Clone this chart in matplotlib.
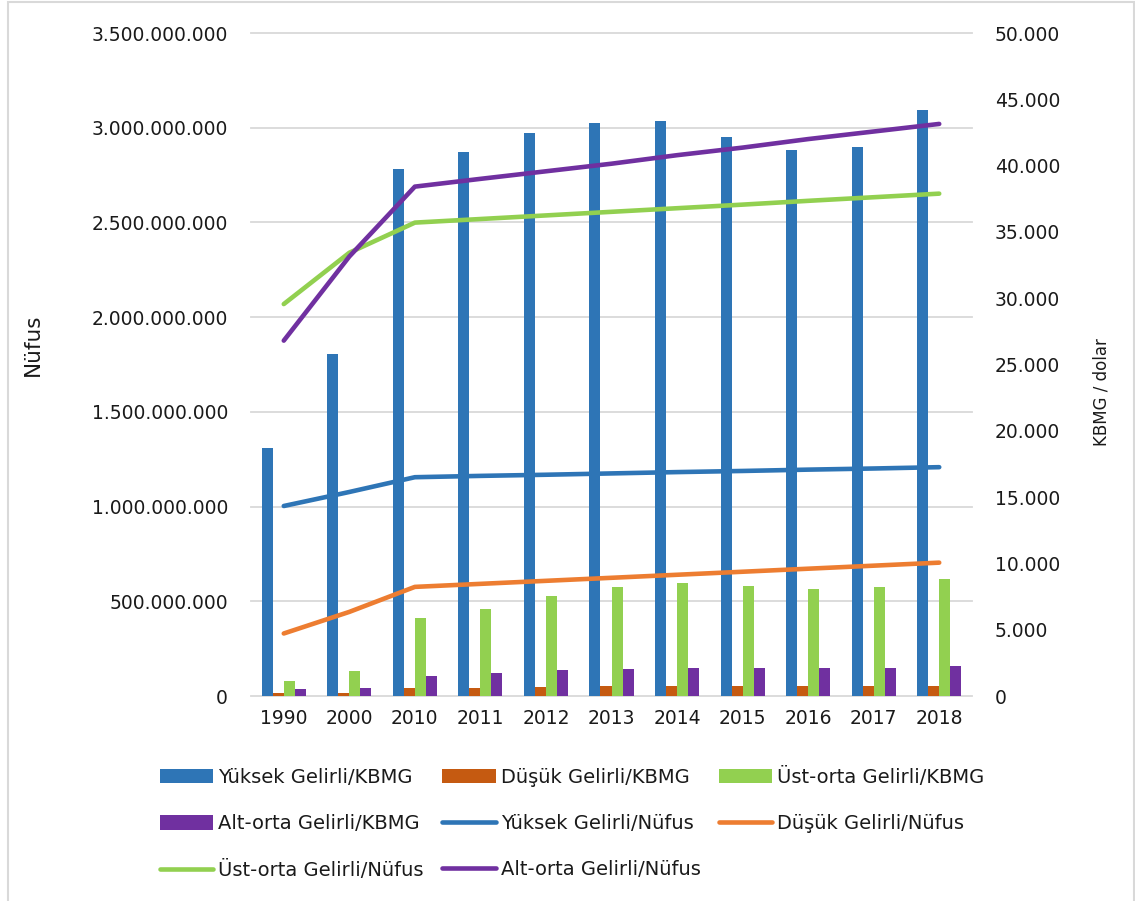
import matplotlib
matplotlib.use('Agg')
import matplotlib.pyplot as plt
from matplotlib.ticker import MultipleLocator, FuncFormatter
from matplotlib.patches import Rectangle
import numpy as np

# categories
years = ['1990', '2000', '2010', '2011', '2012', '2013', '2014', '2015', '2016', '2017', '2018']

# KBMG (dolar) - bars, right axis
yuksek_kbmg = [18690, 25800, 39720, 41040, 42430, 43200, 43400, 42150, 41190, 41420, 44180]
dusuk_kbmg = [200, 200, 580, 600, 680, 730, 750, 730, 730, 730, 780]
ust_orta_kbmg = [1150, 1880, 5850, 6530, 7530, 8200, 8510, 8280, 8080, 8200, 8810]
alt_orta_kbmg = [530, 580, 1530, 1710, 1935, 2010, 2085, 2085, 2085, 2110, 2260]

# Nufus - lines, left axis
yuksek_nufus = [1.003e9, 1.077e9, 1.155e9, 1.162e9, 1.168e9, 1.175e9, 1.182e9, 1.188e9, 1.195e9, 1.201e9, 1.208e9]
dusuk_nufus = [0.330e9, 0.444e9, 0.576e9, 0.592e9, 0.608e9, 0.624e9, 0.640e9, 0.656e9, 0.672e9, 0.688e9, 0.704e9]
ust_orta_nufus = [2.069e9, 2.340e9, 2.499e9, 2.518e9, 2.537e9, 2.556e9, 2.575e9, 2.594e9, 2.614e9, 2.633e9, 2.652e9]
alt_orta_nufus = [1.876e9, 2.320e9, 2.689e9, 2.730e9, 2.770e9, 2.810e9, 2.855e9, 2.895e9, 2.940e9, 2.980e9, 3.020e9]

blue = '#2E75B6'
bar_orange = '#C55A11'
line_orange = '#ED7D31'
green = '#92D050'
purple = '#7030A0'
grid_col = '#D9D9D9'
txt = '#1a1a1a'

W, H = 1135, 901
fig = plt.figure(figsize=(W / 100, H / 100), dpi=100)
ax_pop = fig.add_axes([251 / W, 1 - 696 / H, (972 - 251) / W, (696 - 33) / H])
ax_bar = ax_pop.twinx()
ax_pop.set_zorder(2)
ax_bar.set_zorder(1)
ax_pop.patch.set_visible(False)

x = np.arange(len(years))
w = 0.168
ax_bar.bar(x - 1.5 * w, yuksek_kbmg, w, color=blue, label='Yüksek Gelirli/KBMG')
ax_bar.bar(x - 0.5 * w, dusuk_kbmg, w, color=bar_orange, label='Düşük Gelirli/KBMG')
ax_bar.bar(x + 0.5 * w, ust_orta_kbmg, w, color=green, label='Üst-orta Gelirli/KBMG')
ax_bar.bar(x + 1.5 * w, alt_orta_kbmg, w, color=purple, label='Alt-orta Gelirli/KBMG')

lw = 3.3
ax_pop.plot(x, yuksek_nufus, color=blue, lw=lw, solid_capstyle='round', label='Yüksek Gelirli/Nüfus')
ax_pop.plot(x, dusuk_nufus, color=line_orange, lw=lw, solid_capstyle='round', label='Düşük Gelirli/Nüfus')
ax_pop.plot(x, ust_orta_nufus, color=green, lw=lw, solid_capstyle='round', label='Üst-orta Gelirli/Nüfus')
ax_pop.plot(x, alt_orta_nufus, color=purple, lw=lw, solid_capstyle='round', label='Alt-orta Gelirli/Nüfus')

ax_pop.set_xlim(-0.5, len(years) - 0.5)
ax_pop.set_ylim(0, 3.5e9)
ax_bar.set_ylim(0, 50000)

dots = FuncFormatter(lambda v, p: f'{int(round(v)):,}'.replace(',', '.'))
ax_pop.yaxis.set_major_locator(MultipleLocator(5e8))
ax_pop.yaxis.set_major_formatter(dots)
ax_bar.yaxis.set_major_locator(MultipleLocator(5000))
ax_bar.yaxis.set_major_formatter(dots)

# gridlines follow the left axis, drawn behind bars
ax_bar.yaxis.remove_overlapping_locs = False
ax_bar.yaxis.set_minor_locator(MultipleLocator(50000 / 7))
ax_bar.grid(which='minor', axis='y', color=grid_col, lw=1.3, clip_on=False)
ax_bar.tick_params(which='minor', length=0)
ax_bar.set_axisbelow(True)

ax_pop.set_xticks(x)
ax_pop.set_xticklabels(years)
ax_pop.tick_params(axis='x', length=0, pad=9, labelsize=13.5, labelcolor=txt)
ax_pop.tick_params(axis='y', length=0, pad=16.5, labelsize=13.5, labelcolor=txt)
ax_bar.tick_params(axis='y', length=0, pad=16.5, labelsize=13.5, labelcolor=txt)

for a in (ax_pop, ax_bar):
    for s in a.spines.values():
        s.set_visible(False)

fig.text(33 / W, 1 - 345 / H, 'Nüfus', rotation=90, ha='center', va='center', fontsize=15.5, color=txt)
fig.text(1102 / W, 1 - 392 / H, 'KBMG / dolar', rotation=90, ha='center', va='center', fontsize=12, color=txt)

# legend, row-wise order like the original
hb, lb = ax_bar.get_legend_handles_labels()
hp, lp = ax_pop.get_legend_handles_labels()
handles = hb + hp
labels = lb + lp
order = [0, 3, 6, 1, 4, 7, 2, 5]
fig.legend([handles[i] for i in order], [labels[i] for i in order], ncol=3,
           loc='upper left', bbox_to_anchor=(160 / W, 1 - 767 / H), frameon=False,
           fontsize=14, handlelength=2.75, handleheight=0.75, handletextpad=0.25,
           columnspacing=0.95, labelspacing=1.4, borderpad=0, borderaxespad=0,
           labelcolor=txt)

fig.patches.append(Rectangle((8 / W, -0.02), (1134 - 8) / W, 1.0 - 2 / H + 0.02,
                             transform=fig.transFigure, fill=False,
                             edgecolor=grid_col, lw=1.5))

fig.savefig('out.png', dpi=100)
